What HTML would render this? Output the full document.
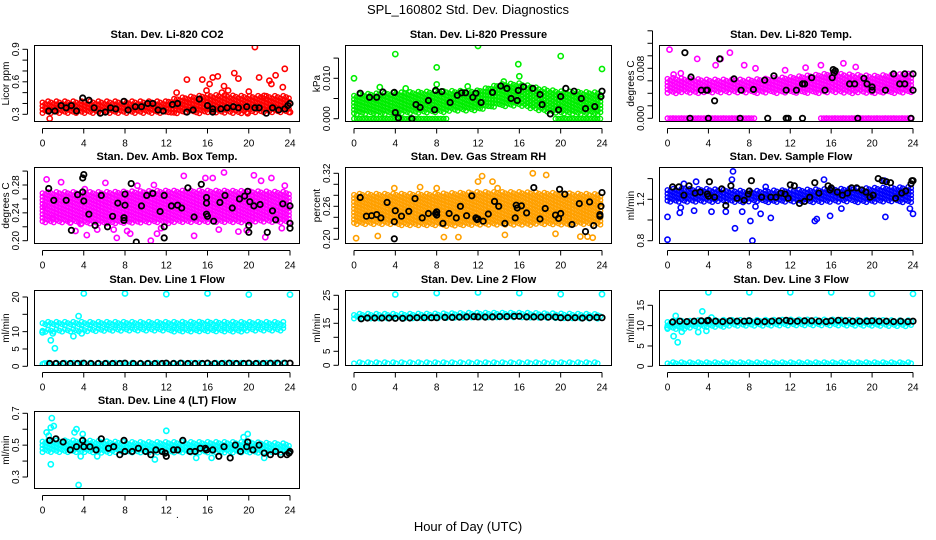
<!DOCTYPE html>
<html><head><meta charset="utf-8"><style>
html,body{margin:0;padding:0;background:#fff}
svg{display:block}
text{font-family:"Liberation Sans",sans-serif}
</style></head><body>
<svg id="chart" width="936" height="540" viewBox="0 0 936 540" xmlns="http://www.w3.org/2000/svg">
<text x="468" y="14" font-size="13" text-anchor="middle">SPL_160802  Std. Dev. Diagnostics</text>
<text x="468" y="531" font-size="13" text-anchor="middle">Hour of Day (UTC)</text>
<text x="176" y="518" font-size="10">.</text>
</svg>
<script>
// ---------------- DATA ----------------
const hourTicks=[0,4,8,12,16,20,24];
// CO2
const co2BandX=[0,4,8,12,13,16,20,24];
const co2BandLo=[0.31,0.31,0.31,0.31,0.31,0.31,0.31,0.31];
const co2BandHi=[0.42,0.42,0.42,0.42,0.45,0.48,0.47,0.47];
const co2OutX=[0.7,13,14,15.5,16.2,16.5,17,17.6,18.6,19,20,20.6,21,22,22.2,22.6,23.5,23.3,19.9,24,15.9,18,17.4,21.5];
const co2OutY=[0.26,0.5,0.62,0.62,0.58,0.64,0.65,0.56,0.68,0.63,0.51,0.92,0.64,0.61,0.58,0.66,0.72,0.55,0.31,0.32,0.52,0.52,0.5,0.47];
const co2BlkX=[0.6,1.2,1.8,2.3,2.8,3.3,3.9,4.5,5,5.6,6.1,6.6,7.1,7.9,8.3,9,9.6,10.2,10.7,11.2,11.7,12.6,13.1,14,14.6,15.2,16,16.5,16.5,17.3,17.9,18.5,19,19.8,20.6,21,21.7,22.3,22.9,23.5,24,23.8];
const co2BlkY=[0.33,0.33,0.38,0.36,0.38,0.33,0.45,0.43,0.36,0.31,0.32,0.36,0.35,0.42,0.34,0.37,0.37,0.4,0.4,0.34,0.33,0.39,0.4,0.32,0.34,0.44,0.38,0.35,0.32,0.35,0.36,0.37,0.36,0.37,0.36,0.36,0.31,0.36,0.34,0.35,0.4,0.38];
// Pressure
const prsBandX=[0,4,8,12,14,16,18,20,24];
const prsBandLo=[0.001,0.001,0.0015,0.002,0.003,0.003,0.002,0.001,0.001];
const prsBandHi=[0.006,0.0065,0.0068,0.007,0.0085,0.0088,0.0075,0.0068,0.0065];
const prsZeroX1=[0,9];
const prsZeroX2=[19.5,24];
const prsOutX=[0,4,8,8,12,15.9,16,20,24,11,14.5,5,2.5];
const prsOutY=[0.01,0.016,0.0127,0.0085,0.018,0.0135,0.0105,0.0155,0.0123,0.008,0.0092,0.0075,0.0078];
const prsBlkX=[0.6,1.5,2.2,2.8,3.9,4,4.3,5.6,6,6.4,7.2,7.8,7.9,8.5,9.3,10,10.4,10.8,11.5,11.8,12.3,13.4,14.2,14.8,15.2,15.8,15.9,16.4,17.3,18,18.2,19,19.8,20,20.5,21.3,22,22.4,23.3,23.9,24];
const prsBlkY=[0.0063,0.0053,0.0053,0.0066,0.0065,0.0015,0.0002,0.0,0.0035,0.0028,0.0045,0.0022,0.007,0.0067,0.004,0.0058,0.0064,0.0064,0.0053,0.0063,0.004,0.0065,0.0081,0.0075,0.005,0.0045,0.007,0.0079,0.0075,0.006,0.0035,0.0012,0.0022,0.0055,0.0075,0.0068,0.005,0.0025,0.003,0.0055,0.0068];
// Li-820 Temp
const tmpBandX=[0,4,8,12,16,20,24];
const tmpBandLo=[0.004,0.004,0.004,0.004,0.004,0.004,0.004];
const tmpBandHi=[0.0065,0.0062,0.0062,0.0066,0.0072,0.0068,0.0072];
const tmpZeroX1=[0,8.5];
const tmpZeroX2=[15,24];
const tmpOutX=[0.3,0.7,1.2,1.7,2,3,3.2,4.5,5,6.5,6.4,6.1,4.7,5.2,2.9,0.2,0.6,1.3,15,17.2,18.4,11.5,13.5,7.5,8.6];
const tmpOutY=[0.0135,0.015,0.0148,0.0145,0.0131,0.0147,0.013,0.0145,0.0133,0.015,0.0125,0.0105,0.0085,0.0095,0.0095,0.011,0.007,0.0072,0.0085,0.0088,0.0082,0.0077,0.0081,0.0085,0.008];
const tmpBlkX=[1.2,1.7,2.3,3.3,3.8,4.6,5.1,6.5,7.2,8.4,9.5,10.4,11.6,12.6,13.2,13.4,14.1,15.4,16.2,16.4,16.3,16.1,17.8,18.3,19.2,19.5,20,20,21.3,22.1,23.2,22.7,23.2,24,24,2.2,4,7.1,11.6,11.8,13.2,18.6,23.8,3.9,9.8];
const tmpBlkY=[0.0123,0.0105,0.0066,0.0045,0.0045,0.0028,0.0095,0.0063,0.0045,0.0046,0.0061,0.0068,0.0045,0.0045,0.0055,0.0055,0.0065,0.0045,0.0078,0.0076,0.0073,0.0065,0.0055,0.0055,0.0064,0.0055,0.0045,0.005,0.0045,0.0071,0.0071,0.0055,0.0055,0.0071,0.0045,0,0,0,0,0,0,0,0,0.0045,0];
// Amb box temp
const ambBandX=[0,6,12,18,24];
const ambBandLo=[0.226,0.224,0.225,0.226,0.226];
const ambBandHi=[0.27,0.27,0.272,0.272,0.27];
const ambOutX=[0.2,0.4,1,1.8,2.7,3.2,4.3,4.1,5.3,6.1,6.9,7.2,8.2,8.5,10.5,10.8,11.1,11.5,13.7,14.7,15.8,16.5,17.1,17.6,19,19.8,20.5,21.2,21.6,22.2,23.2,23.5,9.2,3.7];
const ambOutY=[0.25,0.288,0.232,0.284,0.226,0.214,0.208,0.274,0.216,0.283,0.216,0.204,0.214,0.21,0.2,0.28,0.21,0.218,0.293,0.207,0.29,0.29,0.216,0.298,0.213,0.215,0.294,0.286,0.205,0.29,0.218,0.279,0.279,0.224];
const ambBlkX=[0.6,1.1,2.3,2.8,3.4,3.9,3.9,4,4,4.5,5.1,5.7,6.3,6.8,7.3,8,7.9,7.9,8,8.6,9.1,9.6,10.1,10.7,11.4,11.8,11.8,11.8,12.5,13.1,13.5,14.1,14.7,15.4,15.9,15.9,15.9,16,16.6,17.2,17.7,18.4,19.1,19.6,20.1,19.9,20,20,20.5,21.1,21.8,22.3,22.6,23.3,24,24,24];
const ambBlkY=[0.275,0.258,0.258,0.215,0.266,0.27,0.29,0.295,0.257,0.238,0.222,0.265,0.22,0.235,0.254,0.267,0.229,0.233,0.251,0.282,0.198,0.25,0.265,0.268,0.242,0.265,0.22,0.204,0.25,0.251,0.247,0.276,0.234,0.281,0.262,0.254,0.238,0.235,0.228,0.255,0.265,0.247,0.26,0.264,0.256,0.271,0.222,0.212,0.25,0.252,0.212,0.243,0.23,0.253,0.25,0.218,0.225];
// Gas stream RH
const rhBandX=[0,4,8,12,16,20,24];
const rhBandLo=[0.226,0.226,0.224,0.225,0.226,0.226,0.226];
const rhBandHi=[0.283,0.283,0.283,0.286,0.286,0.284,0.282];
const rhOutX=[0.2,2.3,3.9,6.4,8,8.7,10.1,13.4,13.9,14.6,17.3,18.6,19.5,21.9,22.6,23.1,12,12.4,16.4];
const rhOutY=[0.202,0.206,0.293,0.295,0.293,0.204,0.204,0.305,0.293,0.208,0.32,0.317,0.21,0.205,0.205,0.203,0.305,0.315,0.336];
const rhBlkX=[0.6,1.2,1.7,2.2,2.6,3.2,3.9,3.9,4,4.6,5.3,5.9,6.6,7.2,8,8,7.9,8.6,9.2,9.9,10.3,10.9,11.4,11.8,11.9,12,12.5,13,13.6,14,14.6,15.6,15.7,15.8,16.2,16.7,17.4,18,18.5,19.5,19.8,19.9,20,20.4,21.1,21.8,22.4,22.8,23.2,23.8,23.8,23.9,24];
const rhBlkY=[0.276,0.242,0.243,0.245,0.239,0.267,0.232,0.201,0.252,0.242,0.251,0.274,0.239,0.247,0.25,0.244,0.247,0.229,0.247,0.239,0.26,0.243,0.279,0.239,0.236,0.237,0.233,0.246,0.269,0.26,0.229,0.239,0.262,0.257,0.261,0.248,0.294,0.237,0.256,0.244,0.238,0.291,0.247,0.282,0.227,0.265,0.214,0.268,0.225,0.242,0.245,0.26,0.285];
// Sample flow
const smpBandX=[0,4,8,12,16,20,24];
const smpBandLo=[1.17,1.17,1.17,1.17,1.17,1.17,1.17];
const smpBandHi=[1.3,1.3,1.28,1.29,1.3,1.31,1.32];
const smpOutX=[0,0,1.2,1.3,2.6,2.8,4.3,5.7,6.4,6.3,6.6,7.3,8.1,8.3,8.6,9.1,10.1,14.4,14.6,15.3,15.9,21.3,21.2,23.7,24,17,9.6,1.6];
const smpOutY=[1.03,0.81,1.07,1.12,1.09,1.37,1.08,1.08,1.47,1.39,0.92,1.08,0.99,0.8,1.13,1.06,1.02,0.99,1.01,1.39,1.04,1.03,1.38,1.11,1.06,1.11,1.32,1.35];
const smpBlkX=[0.5,1.1,1.6,2.1,2.7,3.2,3.9,4,4.1,4.6,5.3,5.7,6.2,6.8,7.5,7.9,8,8.2,9.2,10.1,10.6,11.1,11.5,11.8,12,12.4,12.9,13.4,13.9,14.4,14.8,15.7,15.9,16,16.6,17.1,17.6,18,18.5,19,19.4,19.8,20.1,20.6,21,21.4,21.8,22.3,22.9,23.3,23.9,24,23.8];
const smpBlkY=[1.32,1.32,1.24,1.33,1.26,1.27,1.25,1.23,1.37,1.22,1.3,1.14,1.33,1.21,1.19,1.25,1.28,1.38,1.22,1.22,1.22,1.26,1.25,1.21,1.34,1.33,1.16,1.18,1.22,1.36,1.26,1.33,1.29,1.31,1.27,1.24,1.26,1.31,1.31,1.29,1.27,1.22,1.24,1.4,1.38,1.37,1.36,1.21,1.26,1.28,1.38,1.38,1.35];
// Line 1 flow
const l1BandX=[0,4,8,12,16,20,23.5];
const l1BandALo=[11.6,11.6,11.6,11.6,11.7,11.6,11.6];
const l1BandAHi=[12.8,12.8,12.8,12.8,12.9,12.8,12.8];
const l1BandBLo=[9.6,9.8,10,10,10,10,10];
const l1BandBHi=[10.6,10.8,11,11,11.1,11,11];
const l1LowLo=[0.6,0.6,0.6,0.6,0.6,0.6,0.6];
const l1LowHi=[1,1,1,1,1,1,1];
const l1OutX=[4,8,12,16,20,24,3.5,1,0.8,1.2,3,3.8,0,0.2];
const l1OutY=[21,21,20.8,21,20.7,20.7,14.5,9.5,7.5,5.2,8.7,9.5,9.8,0.8];
const l1BlkX=[0.7,1.3,2,2.7,3.4,4,4.7,5.4,6.1,6.8,7.5,8,8.8,9.5,10.2,10.9,11.6,12,12.7,13.4,14.1,14.8,15.5,16,16.7,17.4,18.1,18.8,19.5,20,20.7,21.4,22.1,22.8,23.5,24];
const l1BlkY=[0.8,0.8,0.8,0.8,0.8,0.9,0.8,0.8,0.8,0.8,0.8,0.9,0.8,0.8,0.8,0.8,0.8,0.9,0.8,0.9,0.8,0.8,0.8,0.9,0.8,0.8,0.9,0.8,0.8,0.9,0.8,0.8,0.9,0.9,0.9,0.9];
// Line 2 flow
const l2BandX=[0,4,8,12,16,20,24];
const l2BandLo=[16.6,16.6,16.6,16.8,16.8,16.7,16.6];
const l2BandHi=[18.4,18.4,18.5,18.8,18.8,18.5,18.3];
const l2LowLo=[0.3,0.3,0.3,0.3,0.3,0.3,0.3];
const l2LowHi=[1.1,1.1,1.1,1.1,1.1,1.1,1.1];
const l2OutX=[4,8,12,16,20,24];
const l2OutY=[25.3,25.8,26,25.8,25.4,25.4];
const l2BlkX=[0.7,1.3,2,2.7,3.4,4,4.7,5.4,6.1,6.8,7.5,8,8.8,9.5,10.2,10.9,11.6,12,12.7,13.4,14.1,14.8,15.5,16,16.7,17.4,18.1,18.8,19.5,20,20.7,21.4,22.1,22.8,23.5,24];
const l2BlkY=[16.6,16.9,16.9,16.9,16.9,16.8,16.8,16.9,17,17,17,17,17.1,17.1,17.2,17.3,17.4,17.3,17.2,17.3,17.4,17.4,17.5,17.5,17.3,17.3,17.2,17.2,17.2,17,17,17,16.9,17,17.1,17];
// Line 3 flow
const l3BandX=[0,2,4,8,12,16,20,24];
const l3BandLo=[9,9.2,9.6,9.8,9.8,9.8,9.8,9.8];
const l3BandHi=[11.2,11.2,11.4,11.4,11.5,11.5,11.4,11.3];
const l3LowLo=[0.3,0.3,0.3,0.3,0.3,0.3,0.3,0.3];
const l3LowHi=[1,1,1,1,1,1,1,1];
const l3OutX=[4,8,12,16,20,24,3.4,0.8,1,0.6,3,3.8,0,1.4,4.3];
const l3OutY=[18.2,18.2,18.2,18.2,17.8,17.8,13.5,12.4,5.9,7.4,8.4,8.7,9.5,8.5,12];
const l3BlkX=[0.5,1.2,1.9,2.6,3.3,3.9,4,4.7,5.4,6.1,6.8,7.5,8,8.8,9.5,10.2,10.9,11.6,12,12.7,13.4,14.1,14.8,15.5,16,16.7,17.4,18.1,18.8,19.5,20,20.7,21.4,22.1,22.8,23.5,24];
const l3BlkY=[10.9,11.1,11,11.1,11.2,11.2,11.3,11.1,11,11.2,11.1,11.1,11.2,11,11,11.1,11.2,11.3,11.1,11.1,11.2,11.2,11.1,11,11.2,11.3,11.2,11.1,11.1,11.1,11.2,11.1,11.1,11,11.1,11,11.1];
// Line 4 flow
const l4BandX=[0,4,8,12,16,20,24];
const l4BandLo=[0.455,0.45,0.45,0.45,0.45,0.45,0.45];
const l4BandHi=[0.53,0.53,0.52,0.52,0.52,0.52,0.51];
const l4OutX=[0.4,0.6,0.8,0.9,1.1,0.8,3.3,3.1,3.9,3.5,3.7,12,19.9,19.5,5.3,10.9,21.5,14.9,16.4];
const l4OutY=[0.58,0.56,0.61,0.67,0.62,0.38,0.6,0.58,0.57,0.25,0.43,0.59,0.57,0.55,0.43,0.41,0.42,0.42,0.42];
const l4BlkX=[0.7,1.3,2,2.7,3.3,3.9,4,4.6,5.2,5.7,6.4,6.9,7.5,7.9,8,8.7,9.3,10,10.5,11,11.6,11.9,12,12.7,13.1,13.6,14.3,14.8,15.3,15.8,15.9,16.5,17.1,17.6,18.2,18.7,19.2,19.8,19.9,20.4,21,21.5,22.1,22.6,23.1,23.7,23.9,24];
const l4BlkY=[0.53,0.54,0.52,0.47,0.49,0.53,0.49,0.49,0.47,0.54,0.48,0.49,0.44,0.53,0.46,0.46,0.48,0.46,0.44,0.47,0.46,0.45,0.43,0.47,0.47,0.53,0.46,0.46,0.48,0.48,0.47,0.47,0.43,0.49,0.42,0.5,0.46,0.49,0.52,0.47,0.5,0.45,0.44,0.46,0.44,0.44,0.45,0.46];

// ---------------- RENDER ----------------
const NS="http://www.w3.org/2000/svg";
const svg=document.getElementById('chart');
function mk(tag,attrs,parent){const e=document.createElementNS(NS,tag);for(const k in attrs)e.setAttribute(k,attrs[k]);(parent||svg).appendChild(e);return e;}
function interp(xs,ys,x){if(x<=xs[0])return ys[0];for(let i=1;i<xs.length;i++){if(x<=xs[i]){const t=(x-xs[i-1])/(xs[i]-xs[i-1]);return ys[i-1]+t*(ys[i]-ys[i-1]);}}return ys[ys.length-1];}
const COLS=[{x0:34,x1:300,h0:42.5,h24:290},{x0:345,x1:612,h0:354,h24:602},{x0:659,x1:923,h0:667.5,h24:913}];
const ROWS=[{y0:45,y1:122},{y0:167,y1:244},{y0:290,y1:366},{y0:411,y1:489}];
const panels=[
 {name:'co2',title:'Stan. Dev. Li-820 CO2',ylab:'Licor ppm',c:0,r:0,cal:[0.3,114.3,0.9,49.3],ticks:[0.3,0.4,0.5,0.6,0.7,0.8,0.9],labs:[0.3,0.6,0.9],fmt:1,col:'#ff0000',
  bands:[[co2BandX,co2BandLo,co2BandHi]],out:[co2OutX,co2OutY],blk:[co2BlkX,co2BlkY]},
 {name:'pressure',title:'Stan. Dev. Li-820 Pressure',ylab:'kPa',c:1,r:0,cal:[0,118.7,0.01,78.3],ticks:[0,0.005,0.01,0.015],labs:[0,0.01],fmt:3,col:'#00ee00',
  bands:[[prsBandX,prsBandLo,prsBandHi],[prsZeroX1,[0,0],[0,0]],[prsZeroX2,[0,0],[0,0]]],out:[prsOutX,prsOutY],blk:[prsBlkX,prsBlkY]},
 {name:'temp',title:'Stan. Dev. Li-820 Temp.',ylab:'degrees C',c:2,r:0,cal:[0,118.3,0.008,68.3],ticks:[0,0.002,0.004,0.006,0.008,0.01,0.012,0.014],labs:[0,0.008],fmt:3,col:'#ff00ff',
  bands:[[tmpBandX,tmpBandLo,tmpBandHi],[tmpZeroX1,[0,0],[0,0]],[tmpZeroX2,[0,0],[0,0]]],out:[tmpOutX,tmpOutY],blk:[tmpBlkX,tmpBlkY]},
 {name:'amb-box-temp',title:'Stan. Dev. Amb. Box Temp.',ylab:'degrees C',c:0,r:1,cal:[0.2,240.7,0.28,185],ticks:[0.2,0.22,0.24,0.26,0.28,0.3],labs:[0.2,0.24,0.28],fmt:2,col:'#ff00ff',
  bands:[[ambBandX,ambBandLo,ambBandHi]],out:[ambOutX,ambOutY],blk:[ambBlkX,ambBlkY]},
 {name:'gas-rh',title:'Stan. Dev. Gas Stream RH',ylab:'percent',c:1,r:1,cal:[0.2,239.3,0.32,173.3],ticks:[0.2,0.22,0.24,0.26,0.28,0.3,0.32],labs:[0.2,0.26,0.32],fmt:2,col:'#ffa000',
  bands:[[rhBandX,rhBandLo,rhBandHi]],out:[rhOutX,rhOutY],blk:[rhBlkX,rhBlkY]},
 {name:'sample-flow',title:'Stan. Dev. Sample Flow',ylab:'ml/min',c:2,r:1,cal:[0.8,240.7,1.2,199.3],ticks:[0.8,1.0,1.2,1.4],labs:[0.8,1.2],fmt:1,col:'#0000ff',
  bands:[[smpBandX,smpBandLo,smpBandHi]],out:[smpOutX,smpOutY],blk:[smpBlkX,smpBlkY]},
 {name:'line1-flow',title:'Stan. Dev. Line 1 Flow',ylab:'ml/min',c:0,r:2,cal:[0,366.3,20,297],ticks:[0,5,10,15,20],labs:[0,5,10,20],fmt:0,col:'#00ffff',
  bands:[[l1BandX,l1BandALo,l1BandAHi],[l1BandX,l1BandBLo,l1BandBHi],[l1BandX,l1LowLo,l1LowHi]],out:[l1OutX,l1OutY],blk:[l1BlkX,l1BlkY]},
 {name:'line2-flow',title:'Stan. Dev. Line 2 Flow',ylab:'ml/min',c:1,r:2,cal:[0,365.3,25,295.3],ticks:[0,5,10,15,20,25],labs:[0,5,15,25],fmt:0,col:'#00ffff',
  bands:[[l2BandX,l2BandLo,l2BandHi],[l2BandX,l2LowLo,l2LowHi]],out:[l2OutX,l2OutY],blk:[l2BlkX,l2BlkY]},
 {name:'line3-flow',title:'Stan. Dev. Line 3 Flow',ylab:'ml/min',c:2,r:2,cal:[0,366.3,15,305.3],ticks:[0,5,10,15],labs:[0,5,10,15],fmt:0,col:'#00ffff',
  bands:[[l3BandX,l3BandLo,l3BandHi],[l3BandX,l3LowLo,l3LowHi]],out:[l3OutX,l3OutY],blk:[l3BlkX,l3BlkY]},
 {name:'line4-flow',title:'Stan. Dev. Line 4 (LT) Flow',ylab:'ml/min',c:0,r:3,cal:[0.3,477,0.7,413.3],ticks:[0.3,0.4,0.5,0.6,0.7],labs:[0.3,0.5,0.7],fmt:1,col:'#00ffff',
  bands:[[l4BandX,l4BandLo,l4BandHi]],out:[l4OutX,l4OutY],blk:[l4BlkX,l4BlkY]}
];
panels.forEach(p=>{
 const C=COLS[p.c],R=ROWS[p.r];
 const xs=h=>C.h0+(C.h24-C.h0)*h/24;
 const ys=v=>p.cal[1]+(v-p.cal[0])*(p.cal[3]-p.cal[1])/(p.cal[2]-p.cal[0]);
 const g=mk('g',{});
 
 
 const clipId='clip-'+p.name;
 const cp=mk('clipPath',{id:clipId},g);mk('rect',{x:C.x0,y:R.y0,width:C.x1-C.x0,height:R.y1-R.y0},cp);
 const pts=mk('g',{'clip-path':'url(#'+clipId+')'},g);
 const bandG=mk('g',{fill:'none',stroke:p.col,'stroke-width':1.4},pts);
 
 
 p.bands.forEach(b=>{
  const bx=b[0],lo=b[1],hi=b[2];
  const pxS=xs(bx[0]),pxE=xs(bx[bx.length-1]);
  let k=0;
  for(let px=pxS;px<=pxE+0.01;px+=2.8){
   const h=(px-C.h0)*24/(C.h24-C.h0);
   const yl=ys(interp(bx,lo,h)),yh=ys(interp(bx,hi,h));
   const top=Math.min(yl,yh),bot=Math.max(yl,yh);
   k++;
   const off=(k%3)*1.2;
   for(let py=top+off;py<=bot+0.01;py+=3.5){
    mk('circle',{cx:px.toFixed(1),cy:py.toFixed(1),r:2.3},bandG);
   }
   if(bot-top<1) mk('circle',{cx:px.toFixed(1),cy:top.toFixed(1),r:2.3},bandG);
  }
 });
 const outG=mk('g',{fill:'none',stroke:p.col,'stroke-width':1.6},pts);
 
 
 p.out[0].forEach((h,i)=>{mk('circle',{cx:xs(h).toFixed(1),cy:ys(p.out[1][i]).toFixed(1),r:2.6},outG);});
 const blkG=mk('g',{fill:'none',stroke:'#000','stroke-width':1.8},pts);
 
 
 p.blk[0].forEach((h,i)=>{mk('circle',{cx:xs(h).toFixed(1),cy:ys(p.blk[1][i]).toFixed(1),r:2.7},blkG);});
 const box=mk('rect',{x:C.x0+0.5,y:R.y0+0.5,width:C.x1-C.x0-1,height:R.y1-R.y0-1,fill:'none',stroke:'#000','stroke-width':1},g);
 
 
 const t=mk('text',{x:(C.x0+C.x1)/2,y:R.y0-7,'font-size':11,'font-weight':'bold','text-anchor':'middle'},g);
 t.textContent=p.title;
 
 
 const xa=mk('g',{stroke:'#000','stroke-width':1},g);
 
 
 const axY=R.y1+6.5;
 mk('line',{x1:xs(0),x2:xs(24),y1:axY,y2:axY},xa);
 hourTicks.forEach(h=>{
  mk('line',{x1:xs(h),x2:xs(h),y1:axY,y2:axY+5},xa);
  const tl=mk('text',{x:xs(h),y:axY+18,'font-size':10,'text-anchor':'middle',stroke:'none'},xa);
  tl.textContent=h;
 });
 const ya=mk('g',{stroke:'#000','stroke-width':1},g);
 
 
 const axX=C.x0-6.5;
 mk('line',{x1:axX,x2:axX,y1:ys(p.ticks[0]),y2:ys(p.ticks[p.ticks.length-1])},ya);
 p.ticks.forEach(v=>{mk('line',{x1:axX-5,x2:axX,y1:ys(v),y2:ys(v)},ya);});
 p.labs.forEach(v=>{
  const yy=ys(v),xx=C.x0-15;
  const tl=mk('text',{x:xx,y:yy,'font-size':10,'text-anchor':'middle',stroke:'none',transform:'rotate(-90 '+xx+' '+yy+')'},ya);
  tl.textContent=v.toFixed(p.fmt);
 });
 const yc=(R.y0+R.y1)/2,yx=C.x0-25;
 const yl=mk('text',{x:yx,y:yc,'font-size':10,'text-anchor':'middle',transform:'rotate(-90 '+yx+' '+yc+')'},g);
 yl.textContent=p.ylab;
 
 
});
</script>
</body></html>
